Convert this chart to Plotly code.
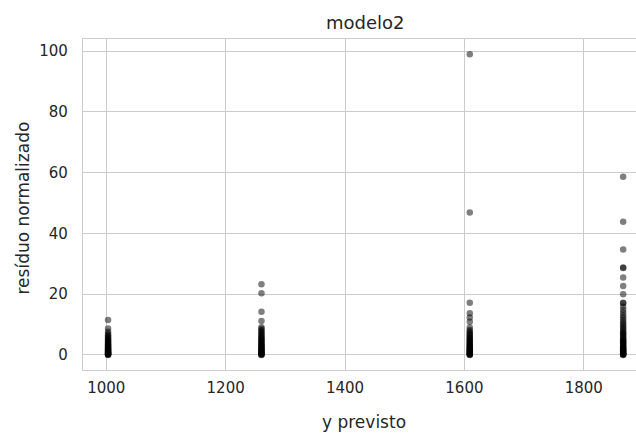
import plotly.graph_objects as go

# Predicted value for each group of observations
y_previsto = [1003, 1260, 1609, 1866]

# Normalised residuals observed at each predicted value
residuos_1003 = [11.5, 8.7, 7.6, 7.0, 6.5, 6.1, 5.7, 5.3, 5.0, 4.7, 4.4, 4.1, 3.8,
                 3.5, 3.3, 3.0, 2.8, 2.6, 2.4, 2.2, 2.0, 1.8, 1.6, 1.4, 1.3, 1.1,
                 1.0, 0.8, 0.7, 0.6, 0.5, 0.4, 0.3, 0.2, 0.1, 0.0]
residuos_1260 = [23.3, 20.3, 14.2, 11.2, 9.1, 8.6, 8.1, 7.6, 7.2, 6.8, 6.4, 6.0,
                 5.6, 5.3, 5.0, 4.7, 4.4, 4.1, 3.8, 3.5, 3.2, 3.0, 2.7, 2.5, 2.2,
                 2.0, 1.8, 1.6, 1.4, 1.2, 1.0, 0.8, 0.6, 0.5, 0.3, 0.2, 0.1, 0.0]
residuos_1609 = [98.9, 46.9, 17.2, 13.7, 12.3, 10.9, 9.0, 8.2, 7.7, 7.2, 6.8, 6.4,
                 6.0, 5.6, 5.3, 5.0, 4.7, 4.4, 4.1, 3.8, 3.5, 3.2, 3.0, 2.7, 2.5,
                 2.2, 2.0, 1.8, 1.6, 1.4, 1.2, 1.0, 0.8, 0.6, 0.5, 0.3, 0.2, 0.1, 0.0]
residuos_1866 = [58.6, 43.8, 34.7, 28.8, 28.6, 25.5, 22.7, 20.0, 17.2, 17.0, 15.9,
                 14.8, 13.9, 13.0, 12.2, 11.5, 10.8, 10.2, 9.6, 9.0, 8.5, 8.0, 7.5,
                 7.1, 6.7, 6.3, 5.9, 5.5, 5.1, 4.8, 4.5, 4.2, 3.9, 3.6, 3.3, 3.0,
                 2.7, 2.5, 2.2, 2.0, 1.8, 1.6, 1.4, 1.2, 1.0, 0.8, 0.6, 0.5, 0.3,
                 0.2, 0.1, 0.0]

grupos = [residuos_1003, residuos_1260, residuos_1609, residuos_1866]
x_vals, y_vals = [], []
for pred, res in zip(y_previsto, grupos):
    x_vals += [pred] * len(res)
    y_vals += res

x_ticks = [1000, 1200, 1400, 1600, 1800]
y_ticks = [0, 20, 40, 60, 80, 100]

TEXT = "#262626"
GRID = "#cccccc"
FONT = "DejaVu Sans"

fig = go.Figure(
    go.Scatter(
        x=x_vals, y=y_vals, mode="markers",
        marker=dict(size=6.5, color="black", opacity=0.5, line=dict(width=0)),
        hoverinfo="x+y",
    )
)

fig.update_layout(
    width=636, height=433,
    margin=dict(l=83, r=0, t=39, b=63),
    paper_bgcolor="white", plot_bgcolor="white",
    showlegend=False,
    font=dict(family=FONT, color=TEXT, size=15),
    xaxis=dict(
        range=[961, 1887.5], tickvals=x_ticks, ticktext=[str(v) for v in x_ticks],
        showgrid=True, gridcolor=GRID, gridwidth=1, zeroline=False,
        showline=True, linecolor=GRID, linewidth=1.3, mirror=True,
        ticks="outside", ticklen=4, tickcolor="rgba(0,0,0,0)",
        tickfont=dict(size=15, family=FONT, color=TEXT),
    ),
    yaxis=dict(
        range=[-4.95, 103.95], tickvals=y_ticks, ticktext=[str(v) for v in y_ticks],
        showgrid=True, gridcolor=GRID, gridwidth=1, zeroline=False,
        showline=True, linecolor=GRID, linewidth=1.3, mirror=False,
        ticks="outside", ticklen=11, tickcolor="rgba(0,0,0,0)",
        tickfont=dict(size=15, family=FONT, color=TEXT),
    ),
    annotations=[
        dict(text="modelo2", xref="paper", yref="paper", x=(365 - 83) / 553, y=1,
             yshift=17, showarrow=False, xanchor="center", yanchor="middle",
             font=dict(size=18, family=FONT, color=TEXT)),
        dict(text="y previsto", xref="paper", yref="paper", x=(364 - 83) / 553, y=0,
             yshift=-52, showarrow=False, xanchor="center", yanchor="middle",
             font=dict(size=17, family=FONT, color=TEXT)),
        dict(text="resíduo normalizado", xref="paper", yref="paper", x=0, y=0.5,
             xshift=-61, yshift=-4, textangle=-90, showarrow=False,
             xanchor="center", yanchor="middle",
             font=dict(size=17, family=FONT, color=TEXT)),
    ],
)

fig.write_html("out.html")
